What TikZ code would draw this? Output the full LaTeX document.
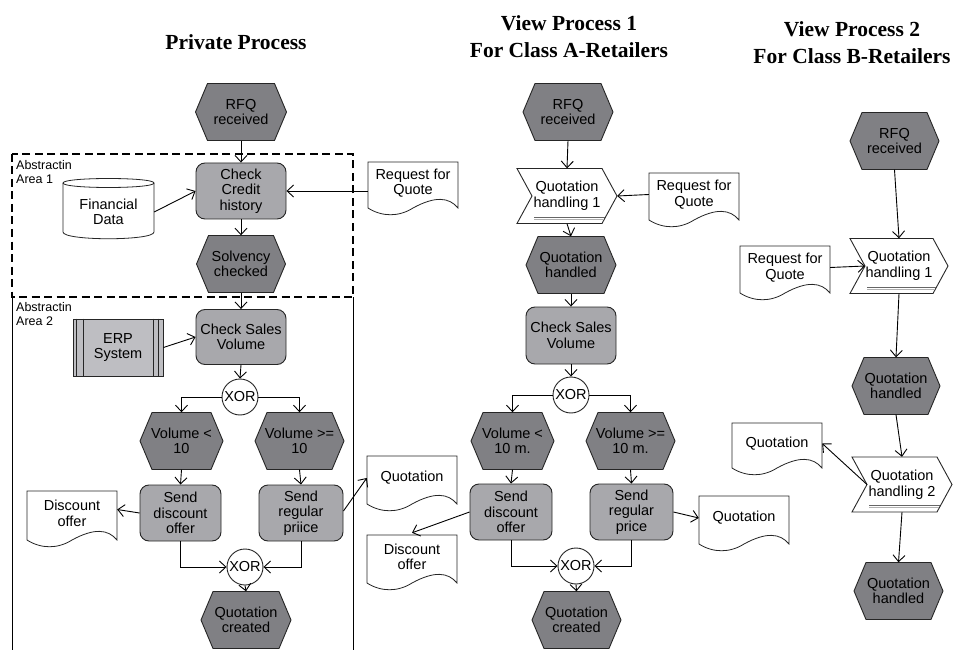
\documentclass[tikz,border=0pt]{standalone}
\usepackage{fontspec}
\setmainfont{Liberation Sans}
\newfontfamily\titlefont{Liberation Serif}
\usetikzlibrary{arrows.meta}
\definecolor{evtgray}{RGB}{128,128,132}
\definecolor{fngray}{RGB}{168,168,172}
\definecolor{erpgray}{RGB}{190,190,194}
\newcommand\nfont{\fontsize{14.5}{15.5}\selectfont}
\newcommand\sfont{\fontsize{12.5}{14.5}\selectfont}
\newcommand\tfont{\titlefont\bfseries\fontsize{21.5}{27}\selectfont}
\tikzset{
  shapeline/.style={draw=black!85, line width=0.9pt},
  evtshape/.style={shapeline, fill=evtgray},
  chevshape/.style={shapeline, fill=white},
  docshape/.style={draw=black!85, line width=0.8pt, fill=white},
  txt/.style={align=center, font=\nfont, inner sep=0pt},
  fnbox/.style={shapeline, fill=fngray, rounded corners=9pt, align=center,
    font=\nfont, inner sep=1pt, minimum height=56pt},
  xorc/.style={circle, draw=black!85, line width=0.9pt, fill=white,
    minimum size=36pt, inner sep=0pt, font=\nfont},
  arr/.style={-{Straight Barb[length=6.5pt,width=12pt]}, line width=0.9pt},
  ttl/.style={align=center, font=\tfont, inner sep=0pt},
  arealbl/.style={anchor=north west, align=left, font=\sfont, inner sep=0pt},
}
% event hexagon: name, center, width, text
\newcommand\evt[4]{%
  \filldraw[evtshape, shift={(#2)}] ({-#3/2},0) -- ({-#3/2+12},-28.5) -- ({#3/2-12},-28.5)
    -- ({#3/2},0) -- ({#3/2-12},28.5) -- ({-#3/2+12},28.5) -- cycle;
  \node[txt, minimum width=#3pt, minimum height=57pt] (#1) at (#2) {#4};}
% process interface chevron: name, center, width, text
\newcommand\chev[4]{%
  \filldraw[chevshape, shift={(#2)}] ({-#3/2},-27.5) -- ({#3/2-15},-27.5) -- ({#3/2},0)
    -- ({#3/2-15},27.5) -- ({-#3/2},27.5) -- ({-#3/2+15},0) -- cycle;
  \draw[black!60, line width=0.9pt, shift={(#2)}] ({-#3/2+17},21) -- ({#3/2-12},21);
  \draw[black!30, line width=0.9pt, shift={(#2)}] ({-#3/2+17},23.2) -- ({#3/2-13},23.2);
  \node[txt, minimum width=#3pt, minimum height=55pt] (#1) at (#2) {#4};
  \path[shift={(#2)}] ({-#3/2+15},0) coordinate (#1n);}
% document: name, x, y (top left), side height, text
\newcommand\doc[5]{%
  \filldraw[docshape, shift={(#2,#3)}] (0,0) -- (90,0) -- (90,#4)
    .. controls (81,#4-11) and (67,#4-12) .. (45,#4)
    .. controls (31,#4+9) and (14,#4+9) .. (0,#4) -- cycle;
  \node[txt, minimum width=90pt, minimum height=#4pt] (#1) at (#2+45,#3+#4/2-2) {#5};}
\begin{document}
\begin{tikzpicture}[x=1pt,y=-1pt]
\useasboundingbox (0,0) rectangle (954,650);
\fill[white] (0,0) rectangle (954,650);

% titles
\node[ttl] (t1) at (236,42) {Private Process};
\node[ttl] (t2) at (569,37) {View Process 1\\For Class A-Retailers};
\node[ttl] (t3) at (852,43) {View Process 2\\For Class B-Retailers};

% abstraction areas
\draw[line width=1.7pt, dash pattern=on 8pt off 4.5pt] (12,154) rectangle (353,297);
\draw[line width=0.9pt] (12,297) -- (12,650);
\draw[line width=0.9pt] (353,297) -- (353,650);
\node[arealbl] (a1) at (16,160) {Abstractin\\Area 1};
\node[arealbl] (a2) at (16,302) {Abstractin\\Area 2};

% ---------------- column 1 ----------------
\evt{rfqa}{241,112}{91}{RFQ\\received}
\node[fnbox, minimum width=90pt] (ccr) at (241,191) {Check\\Credit\\history};
\evt{solv}{241,264}{89}{Solvency\\checked}
\node[fnbox, minimum width=90pt, minimum height=55pt] (csv) at (241,337) {Check Sales\\Volume};
\node[xorc] (xa) at (240,397) {XOR};
\evt{vlt}{181.5,441}{83}{Volume <\\10}
\evt{vge}{299.5,441}{89}{Volume >=\\10}
\node[fnbox, minimum width=81pt] (sdo) at (180.5,513) {Send\\discount\\offer};
\node[fnbox, minimum width=84pt] (srp) at (301,513) {Send\\regular\\priice};
\node[xorc] (xb) at (245,567) {XOR};
\evt{qca}{246,620}{90}{Quotation\\created}

% financial data (cylinder)
\filldraw[docshape] (63,183) -- (63,232) .. controls (63,241) and (154,241) .. (154,232)
  -- (154,183) .. controls (154,177) and (63,177) .. (63,183) -- cycle;
\draw[line width=0.8pt, black!85] (63,183) .. controls (63,189) and (154,189) .. (154,183);
\node[txt, minimum width=91pt, minimum height=50pt] (fin) at (108.5,212) {Financial\\Data};

% ERP system
\node[draw=black!85, line width=0.8pt, fill=erpgray, minimum width=90pt, minimum height=57pt,
  txt] (erp) at (118,347.5) {ERP\\System};
\draw[line width=0.8pt, black!85] ([xshift=3.5pt]erp.north west) -- ([xshift=3.5pt]erp.south west);
\draw[line width=0.8pt, black!85] ([xshift=11pt]erp.north west) -- ([xshift=11pt]erp.south west);
\draw[line width=0.8pt, black!85] ([xshift=-5.5pt]erp.north east) -- ([xshift=-5.5pt]erp.south east);
\draw[line width=0.8pt, black!85] ([xshift=-10.5pt]erp.north east) -- ([xshift=-10.5pt]erp.south east);

\doc{rfqda}{368}{162}{46}{Request for\\Quote}
\doc{disca}{27}{491}{49}{Discount\\offer}
\doc{quota}{367}{456}{48}{Quotation}

\draw[arr] (rfqa.south) -- (ccr.north);
\draw[arr] (fin.east) -- (ccr.west);
\draw[arr] (rfqda.west |- ccr.east) -- (ccr.east);
\draw[arr] (ccr.south) -- (solv.north);
\draw[arr] (solv.south) -- (csv.north);
\draw[arr] (erp.east) -- (csv.west);
\draw[arr] (csv.south) -- (xa.north);
\draw[arr] (xa.west) -| (vlt.north);
\draw[arr] (xa.east) -| (vge.north);
\draw[arr] (vlt.south) -- (sdo.north);
\draw[arr] (vge.south) -- (srp.north);
\draw[arr] (sdo.west) -- ([yshift=4pt]disca.east);
\draw[arr] ([yshift=2pt]srp.east) -- (quota.west);
\draw[arr] (sdo.south) |- (xb.west);
\draw[arr] (srp.south) |- (xb.east);
\draw[arr] (xb.south) -- (qca.north);

% ---------------- column 2 ----------------
\evt{rfqb}{568,112}{90}{RFQ\\received}
\chev{qha}{567,196}{100}{Quotation\\handling 1}
\doc{rfqdb}{649}{173}{47}{Request for\\Quote}
\evt{qhdb}{571,265}{90}{Quotation\\handled}
\node[fnbox, minimum width=90pt, minimum height=57pt] (csvb) at (571,335.5) {Check Sales\\Volume};
\node[xorc] (xc) at (571,395) {XOR};
\evt{vltb}{512.5,441}{83}{Volume <\\10 m.}
\evt{vgeb}{630.5,441}{89}{Volume >=\\10 m.}
\node[fnbox, minimum width=82pt] (sdob) at (511,512) {Send\\discount\\offer};
\node[fnbox, minimum width=83pt] (srpb) at (631.5,512) {Send\\regular\\price};
\node[xorc] (xd) at (576,566) {XOR};
\evt{qcb}{576.5,620}{89}{Quotation\\created}
\doc{discb}{367}{535}{48}{Discount\\offer}
\doc{quotb}{699}{496}{48}{Quotation}

\draw[arr] (rfqb.south) -- (qha.north);
\draw[arr] (rfqdb.west) -- (qha.east);
\draw[arr] (qha.south) -- (qhdb.north);
\draw[arr] (qhdb.south) -- (csvb.north);
\draw[arr] (csvb.south) -- (xc.north);
\draw[arr] (xc.west) -| (vltb.north);
\draw[arr] (xc.east) -| (vgeb.north);
\draw[arr] (vltb.south) -- (sdob.north);
\draw[arr] (vgeb.south) -- (srpb.north);
\draw[arr] (sdob.west) -- (discb.north);
\draw[arr] (srpb.east) -- (quotb.west);
\draw[arr] (sdob.south) |- (xd.west);
\draw[arr] (srpb.south) |- (xd.east);
\draw[arr] (xd.south) -- (qcb.north);

% ---------------- column 3 ----------------
\evt{rfqc}{894.5,141}{89}{RFQ\\received}
\chev{qhb}{899,266}{98}{Quotation\\handling 1}
\doc{rfqdc}{740}{246}{47}{Request for\\Quote}
\evt{qhdc}{896,386}{88}{Quotation\\handled}
\chev{qhc}{902,484.5}{100}{Quotation\\handling 2}
\doc{quotc}{732}{423}{45}{Quotation}
\evt{qhdd}{898.5,591}{89}{Quotation\\handled}

\draw[arr] (rfqc.south) -- (qhb.north);
\draw[arr] (rfqdc.east) -- (qhbn);
\draw[arr] (qhb.south) -- (qhdc.north);
\draw[arr] (qhdc.south) -- (qhc.north);
\draw[arr] (qhcn) -- (quotc.east);
\draw[arr] (qhc.south) -- (qhdd.north);
\end{tikzpicture}
\end{document}
